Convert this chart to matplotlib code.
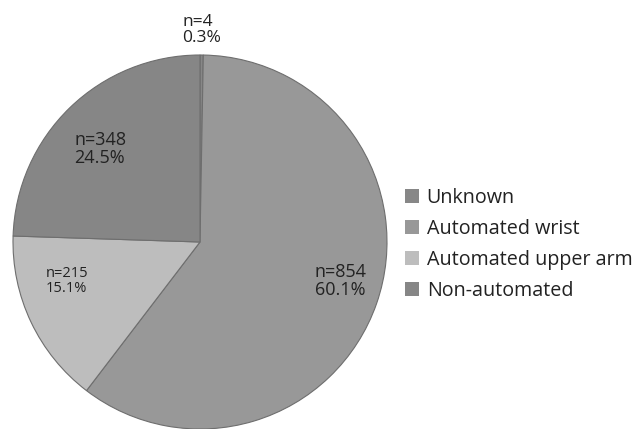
import matplotlib
matplotlib.use("Agg")
import matplotlib.pyplot as plt
from matplotlib.patches import Patch

categories = ["Unknown", "Automated wrist", "Automated upper arm", "Non-automated"]
counts = [4, 854, 215, 348]
percents = [0.3, 60.1, 15.1, 24.5]
colors = ["#878787", "#989898", "#bdbdbd", "#868686"]

plt.rcParams["font.family"] = ["Open Sans", "DejaVu Sans"]

W, H = 638, 429
fig = plt.figure(figsize=(W / 100, H / 100), dpi=100)

cx, cy, r = 200, 242, 187
ax = fig.add_axes([(cx - r) / W, (H - cy - r) / H, 2 * r / W, 2 * r / H])
ax.pie(counts, colors=colors, startangle=90, counterclock=False, radius=1,
       wedgeprops=dict(edgecolor="#6e6e6e", linewidth=0.8))
ax.set_xlim(-1, 1)
ax.set_ylim(-1, 1)
ax.set_aspect("equal")
ax.axis("off")


def px(x, y):
    return (x - cx) / r, (cy - y) / r


labels = [f"n={c}\n{p}%" for c, p in zip(counts, percents)]
# (x, y, ha, fontsize) per slice label
placements = [
    (202, 30, "center", 12.5),
    (315, 281, "left", 13),
    (88, 281, "right", 10.5),
    (74, 149, "left", 13),
]
for lab, (x, y, ha, fs) in zip(labels, placements):
    dx, dy = px(x, y)
    ax.text(dx, dy, lab, ha=ha, va="center", fontsize=fs, color="#222222",
            multialignment="left", linespacing=1.05, clip_on=False)

handles = [Patch(facecolor=c, edgecolor="none") for c in colors]
fig.legend(handles, categories, loc="upper left",
           bbox_to_anchor=(405 / W, 1 - 188 / H), frameon=False,
           fontsize=14.2, handlelength=0.7, handleheight=0.7,
           handletextpad=0.4, labelspacing=0.55, borderaxespad=0,
           borderpad=0, labelcolor="#222222")

fig.savefig("out.png", dpi=100)
